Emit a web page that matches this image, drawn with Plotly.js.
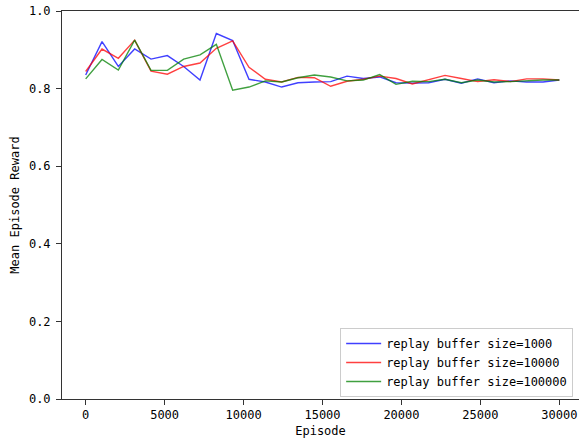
<!DOCTYPE html>
<html>
<head>
<meta charset="utf-8">
<script src="https://cdn.plot.ly/plotly-3.0.1.min.js"></script>
<style>html,body{margin:0;padding:0;background:#fff;}#chart{width:579px;height:442px;}</style>
</head>
<body>
<div id="chart"></div>
<script>
// 30 evaluation points from 0 to 30000 episodes
const episodes = [0, 1034, 2069, 3103, 4138, 5172, 6207, 7241, 8276, 9310,
  10345, 11379, 12414, 13448, 14483, 15517, 16552, 17586, 18621, 19655,
  20690, 21724, 22759, 23793, 24828, 25862, 26897, 27931, 28966, 30000];

const reward1000 = [0.835, 0.921, 0.857, 0.902, 0.876, 0.885, 0.857, 0.822, 0.942, 0.924,
  0.824, 0.817, 0.804, 0.815, 0.817, 0.818, 0.832, 0.826, 0.830, 0.815,
  0.814, 0.815, 0.824, 0.814, 0.825, 0.815, 0.820, 0.817, 0.817, 0.822];

const reward10000 = [0.844, 0.902, 0.878, 0.925, 0.845, 0.837, 0.857, 0.866, 0.904, 0.923,
  0.855, 0.824, 0.817, 0.829, 0.828, 0.806, 0.819, 0.824, 0.832, 0.826,
  0.812, 0.823, 0.834, 0.826, 0.818, 0.823, 0.818, 0.825, 0.825, 0.822];

const reward100000 = [0.825, 0.875, 0.848, 0.925, 0.847, 0.847, 0.876, 0.887, 0.914, 0.796,
  0.804, 0.820, 0.817, 0.828, 0.835, 0.830, 0.820, 0.822, 0.836, 0.811,
  0.819, 0.818, 0.824, 0.815, 0.822, 0.817, 0.818, 0.820, 0.822, 0.822];

const seriesNames = ["replay buffer size=1000", "replay buffer size=10000", "replay buffer size=100000"];
const xTicks = [0, 5000, 10000, 15000, 20000, 25000, 30000];
const yTicks = [0.0, 0.2, 0.4, 0.6, 0.8, 1.0];

const FONT = "DejaVu Sans Mono, monospace";
const colors = ["rgba(0,0,255,0.75)", "rgba(255,0,0,0.75)", "rgba(0,128,0,0.75)"];
const ys = [reward1000, reward10000, reward100000];

const traces = ys.map((y, i) => ({
  x: episodes, y: y, type: "scatter", mode: "lines",
  name: seriesNames[i],
  line: {color: colors[i], width: 1.4}
}));

const axisCommon = {
  showline: true, linecolor: "#333", linewidth: 1,
  ticks: "outside", ticklen: 5, tickwidth: 1, tickcolor: "#333",
  showgrid: false, zeroline: false,
  tickfont: {family: FONT, size: 12, color: "#000"}
};

const layout = {
  width: 579, height: 442,
  margin: {l: 62, r: 0, t: 11, b: 43, pad: 0},
  paper_bgcolor: "#fff", plot_bgcolor: "#fff",
  font: {family: FONT, size: 12, color: "#000"},
  xaxis: Object.assign({}, axisCommon, {
    range: [-1500, 31246], mirror: true,
    tickvals: xTicks, ticktext: xTicks.map(v => String(v)),
    title: {text: "Episode", font: {family: FONT, size: 12, color: "#000"}, standoff: 5}
  }),
  yaxis: Object.assign({}, axisCommon, {
    range: [0, 1], ticklabelstandoff: 3,
    tickvals: yTicks, ticktext: yTicks.map(v => v.toFixed(1)),
    title: {text: "Mean Episode Reward", font: {family: FONT, size: 12, color: "#000"}, standoff: 6}
  }),
  showlegend: true,
  legend: {
    x: 0.538, y: 0.183, xanchor: "left", yanchor: "top",
    bgcolor: "rgba(255,255,255,0.8)", bordercolor: "#cccccc", borderwidth: 1,
    font: {family: FONT, size: 12, color: "#000"},
    itemwidth: 35, tracegroupgap: 0
  }
};

Plotly.newPlot("chart", traces, layout, {staticPlot: true, displayModeBar: false});
</script>
</body>
</html>
